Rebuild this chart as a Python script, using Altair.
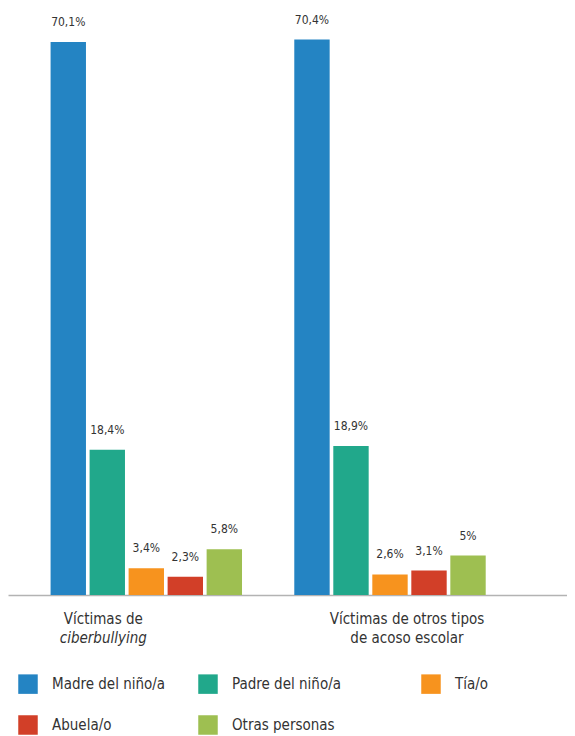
import altair as alt
import pandas as pd

groups = ["Víctimas de ciberbullying", "Víctimas de otros tipos de acoso escolar"]
series = ["Madre del niño/a", "Padre del niño/a", "Tía/o", "Abuela/o", "Otras personas"]
values_cyber = [70.1, 18.4, 3.4, 2.3, 5.8]
values_otros = [70.4, 18.9, 2.6, 3.1, 5.0]
labels_cyber = ["70,1%", "18,4%", "3,4%", "2,3%", "5,8%"]
labels_otros = ["70,4%", "18,9%", "2,6%", "3,1%", "5%"]
colors = ["#2484C3", "#21A88B", "#F7931E", "#D23F28", "#9EBF51"]
group_line1 = ["Víctimas de", "Víctimas de otros tipos"]
group_line2 = ["ciberbullying", "de acoso escolar"]

FONT = "DejaVu Sans Condensed"

rows = []
for g, vals, labs in [(groups[0], values_cyber, labels_cyber), (groups[1], values_otros, labels_otros)]:
    for s, v, l in zip(series, vals, labs):
        rows.append({"grupo": g, "serie": s, "valor": v, "etiqueta": l})
df = pd.DataFrame(rows)

lab_df = pd.DataFrame({"grupo": groups, "l1": group_line1, "l2": group_line2})

x_enc = alt.X(
    "grupo:N", sort=groups,
    scale=alt.Scale(paddingInner=0, paddingOuter=0.1469, align=0.2297),
    axis=alt.Axis(title=None, labels=False, ticks=False, domain=True,
                  domainColor="#b3b3b3", domainWidth=1.5, grid=False),
)
xoff = alt.XOffset("serie:N", sort=series, scale=alt.Scale(paddingInner=0.093, paddingOuter=0.67))
y_enc = alt.Y("valor:Q", scale=alt.Scale(domain=[0, 74.4], nice=False, zero=True), axis=None)

base = alt.Chart(df)

pad = "\u00a0" * 11 + "\u200b"
bars = base.mark_bar().encode(
    x=x_enc, xOffset=xoff, y=y_enc,
    color=alt.Color(
        "serie:N", sort=series,
        scale=alt.Scale(domain=series, range=colors),
        legend=alt.Legend(
            title=None, orient="none", legendX=10, legendY=666, columns=3,
            direction="horizontal",
            symbolType="square", symbolSize=380, symbolStrokeWidth=0, symbolOpacity=1,
            labelFont=FONT, labelFontSize=15, labelColor="#333333", labelOffset=14,
            rowPadding=21, columnPadding=32, gridAlign="each", labelLimit=400,
            labelExpr="indexof(datum.label, 'Padre') == 0 ? datum.label + '" + pad + "' : datum.label",
        ),
    ),
)

texts = base.mark_text(dy=-16, baseline="alphabetic", font=FONT, fontSize=12, color="#333333").encode(
    x=x_enc, xOffset=xoff, y=y_enc, text="etiqueta:N"
)

lab_base = alt.Chart(lab_df)
layers = [bars, texts]
for g, dx in [(groups[0], -43), (groups[1], 17)]:
    style2 = "italic" if g == groups[0] else "normal"
    layers.append(
        lab_base.transform_filter(alt.datum.grupo == g).mark_text(
            dx=dx, baseline="alphabetic", font=FONT, fontSize=15, color="#333333"
        ).encode(x=x_enc, y=alt.value(616), text="l1:N")
    )
    layers.append(
        lab_base.transform_filter(alt.datum.grupo == g).mark_text(
            dx=dx, baseline="alphabetic", font=FONT, fontSize=15, color="#333333", fontStyle=style2
        ).encode(x=x_enc, y=alt.value(635), text="l2:N")
    )

chart = alt.layer(*layers).properties(
    width=559, height=587, padding={"left": 0, "top": 0, "right": 0, "bottom": 0}
).configure(background="white").configure_view(stroke=None)

chart.save("out.html", embed_options={"renderer": "svg", "actions": False})
